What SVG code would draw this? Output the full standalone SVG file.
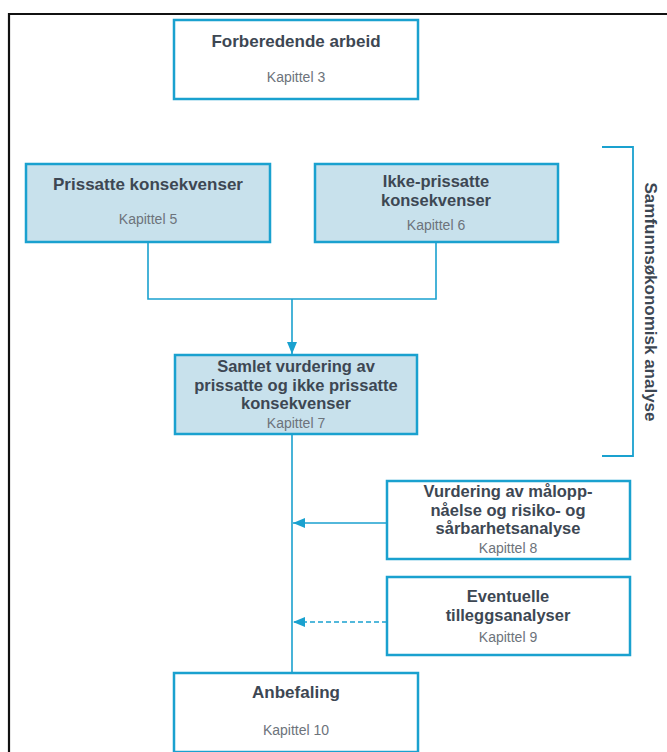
<svg xmlns="http://www.w3.org/2000/svg" width="667" height="752" viewBox="0 0 667 752">
<style>
.box{fill:#ffffff;stroke:#1aa1cf;stroke-width:2.5}
.fill{fill:#c8e1ec}
.t{font-family:"Liberation Sans",Arial,sans-serif;font-weight:bold;font-size:17px;fill:#3d4753;text-anchor:middle}
.m{font-size:16.5px}
.k{font-family:"Liberation Sans",Arial,sans-serif;font-size:14px;fill:#6d737b;text-anchor:middle}
.c{fill:none;stroke:#1aa1cf;stroke-width:1.6}
</style>
<defs>
<marker id="ah" viewBox="0 0 12 10" refX="12" refY="5" markerWidth="12" markerHeight="10" markerUnits="userSpaceOnUse" orient="auto">
<path d="M0,0 L12,5 L0,10 z" fill="#1aa1cf"/>
</marker>
</defs>
<rect width="667" height="752" fill="#ffffff"/>
<path d="M9,760 L9,14 L680,14" fill="none" stroke="#111111" stroke-width="2.2"/>

<g id="connectors">
<path class="c" d="M148,242 L148,299 L436,299 L436,242"/>
<path class="c" d="M292,299 L292,354" marker-end="url(#ah)"/>
<path class="c" d="M292,434 L292,672"/>
<path class="c" d="M387,523 L293,523" marker-end="url(#ah)"/>
<path class="c" d="M387,622 L293,622" stroke-dasharray="5,3" marker-end="url(#ah)"/>
</g>

<g id="bracket">
<path d="M602,147 L633,147 L633,456 L602,456" fill="none" stroke="#1aa1cf" stroke-width="1.8"/>
<text transform="translate(645,302) rotate(90)" font-family="Liberation Sans,Arial,sans-serif" font-weight="bold" font-size="17" fill="#3d4753" text-anchor="middle">Samfunnsøkonomisk analyse</text>
</g>

<g id="forberedende">
<rect class="box" x="174" y="20" width="244" height="79"/>
<text class="t" x="296" y="47">Forberedende arbeid</text>
<text class="k" x="296" y="82">Kapittel 3</text>
</g>

<g id="prissatte">
<rect class="box fill" x="26" y="164" width="244" height="78"/>
<text class="t" x="148" y="190">Prissatte konsekvenser</text>
<text class="k" x="148" y="224">Kapittel 5</text>
</g>

<g id="ikke-prissatte">
<rect class="box fill" x="315" y="164" width="243" height="78"/>
<text class="t m" x="436" y="187">Ikke-prissatte</text>
<text class="t m" x="436" y="205.5">konsekvenser</text>
<text class="k" x="436" y="230">Kapittel 6</text>
</g>

<g id="samlet">
<rect class="box fill" x="175" y="355" width="242" height="79"/>
<text class="t m" x="296" y="372">Samlet vurdering av</text>
<text class="t m" x="296" y="390.5">prissatte og ikke prissatte</text>
<text class="t m" x="296" y="409">konsekvenser</text>
<text class="k" x="296" y="428">Kapittel 7</text>
</g>

<g id="maloppnaelse">
<rect class="box" x="387" y="481" width="243" height="78"/>
<text class="t m" x="508" y="497">Vurdering av målopp-</text>
<text class="t m" x="508" y="515.5">nåelse og risiko- og</text>
<text class="t m" x="508" y="534">sårbarhetsanalyse</text>
<text class="k" x="508" y="553">Kapittel 8</text>
</g>

<g id="eventuelle">
<rect class="box" x="387" y="577" width="243" height="78"/>
<text class="t m" x="508" y="602">Eventuelle</text>
<text class="t m" x="508" y="620.5">tilleggsanalyser</text>
<text class="k" x="508" y="642">Kapittel 9</text>
</g>

<g id="anbefaling">
<rect class="box" x="174" y="673" width="244" height="79"/>
<text class="t" x="296" y="698">Anbefaling</text>
<text class="k" x="296" y="735">Kapittel 10</text>
</g>
</svg>
